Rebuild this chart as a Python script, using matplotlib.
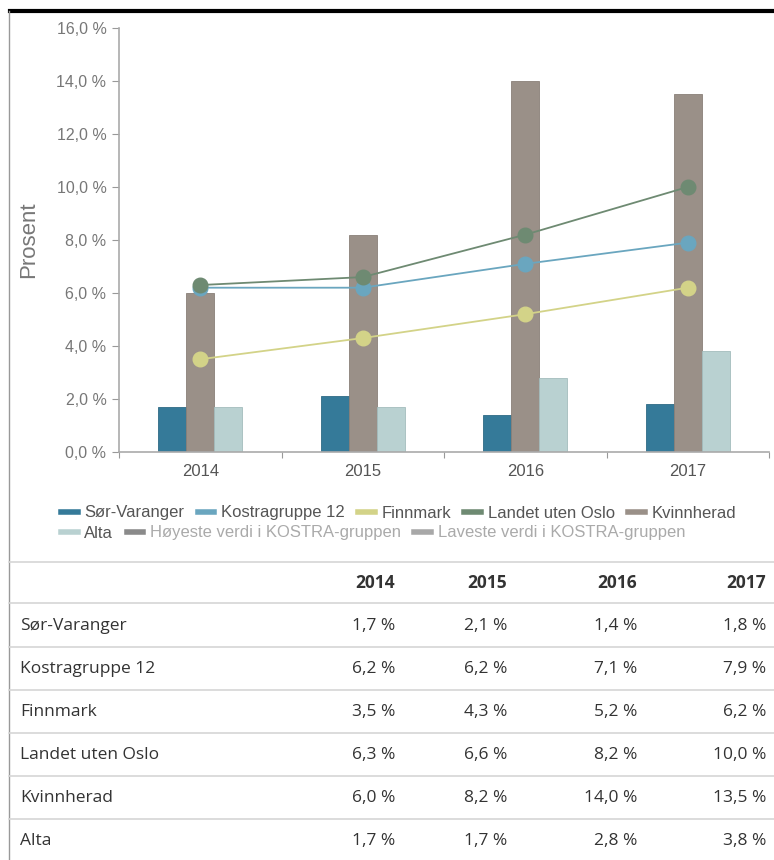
import numpy as np
import matplotlib
matplotlib.use("Agg")
import matplotlib.pyplot as plt
from matplotlib.lines import Line2D

years = ["2014", "2015", "2016", "2017"]

sor_varanger = [1.7, 2.1, 1.4, 1.8]
kostragruppe = [6.2, 6.2, 7.1, 7.9]
finnmark = [3.5, 4.3, 5.2, 6.2]
landet = [6.3, 6.6, 8.2, 10.0]
kvinnherad = [6.0, 8.2, 14.0, 13.5]
alta = [1.7, 1.7, 2.8, 3.8]

table_rows = ["Sør-Varanger", "Kostragruppe 12", "Finnmark",
              "Landet uten Oslo", "Kvinnherad", "Alta"]
table_vals = [sor_varanger, kostragruppe, finnmark, landet, kvinnherad, alta]

legend_labels = ["Sør-Varanger", "Kostragruppe 12", "Finnmark",
                 "Landet uten Oslo", "Kvinnherad", "Alta",
                 "Høyeste verdi i KOSTRA-gruppen", "Laveste verdi i KOSTRA-gruppen"]

c_sv = "#357a99"
c_kg = "#6aa6bf"
c_fm = "#d3d388"
c_lo = "#6e8a72"
c_kv = "#9a9088"
c_al = "#b9d1d1"
c_hi = "#8a8a8a"
c_lo2 = "#a8a8a8"

W, H = 774, 860
fig = plt.figure(figsize=(W / 100, H / 100), dpi=100)

chart_font = "Liberation Sans"
table_font = "Open Sans"

def fx(px):
    return px / W

def fy(py):
    return 1 - py / H

# chart axes
ax = fig.add_axes([fx(119), fy(452), fx(769) - fx(119), fy(28) - fy(452)])
x = np.arange(len(years))
bw = 0.172
ax.bar(x - bw, sor_varanger, bw, color=c_sv, edgecolor="#2e6a85", linewidth=0.6)
ax.bar(x, kvinnherad, bw, color=c_kv, edgecolor="#8a8078", linewidth=0.6)
ax.bar(x + bw, alta, bw, color=c_al, edgecolor="#a3bcbc", linewidth=0.6)

ax.plot(x, finnmark, color=c_fm, lw=1.3, marker="o", ms=10.5, zorder=3)
ax.plot(x, kostragruppe, color=c_kg, lw=1.3, marker="o", ms=10.5, zorder=4)
ax.plot(x, landet, color=c_lo, lw=1.3, marker="o", ms=10.5, zorder=5)

ax.set_xlim(-0.5, 3.5)
ax.set_ylim(0, 16)
ax.set_yticks(np.arange(0, 17, 2))
ax.set_yticklabels([f"{v:.1f} %".replace(".", ",") for v in np.arange(0, 17, 2)])
ax.set_xticks(np.arange(-0.5, 4.0, 1.0))
ax.set_xticklabels([])
ax.set_xticks(x, minor=True)
ax.set_xticklabels(years, minor=True)
ax.tick_params(axis="x", which="minor", length=0, pad=9, labelsize=12, labelcolor="#555555")
ax.tick_params(axis="x", which="major", length=4, color="#999999")
ax.tick_params(axis="y", length=5, color="#999999", labelsize=11.5, labelcolor="#777777", pad=4)
for lab in ax.get_xticklabels(minor=True) + ax.get_yticklabels():
    lab.set_fontfamily(chart_font)
for s in ["top", "right"]:
    ax.spines[s].set_visible(False)
ax.spines["left"].set_color("#aaaaaa")
ax.spines["bottom"].set_color("#aaaaaa")
ax.spines["left"].set_linewidth(1.2)
ax.spines["bottom"].set_linewidth(1.2)

fig.text(fx(29), fy(240), "Prosent", rotation=90, ha="center", va="center",
         fontsize=16, color="#777777", family=chart_font)

# legend
colors = [c_sv, c_kg, c_fm, c_lo, c_kv, c_al, c_hi, c_lo2]
handles = [Line2D([], [], color=c, lw=4) for c in colors]
row1 = fig.legend(handles[:5], legend_labels[:5], loc="center left",
                  bbox_to_anchor=(fx(46), fy(513)), ncol=5, frameon=False,
                  handlelength=1.0, handletextpad=0.4, columnspacing=0.8,
                  prop={"family": chart_font, "size": 12})
for t in row1.get_texts():
    t.set_color("#555555")
row2 = fig.legend(handles[5:], legend_labels[5:], loc="center left",
                  bbox_to_anchor=(fx(46), fy(533)), ncol=3, frameon=False,
                  handlelength=1.0, handletextpad=0.4, columnspacing=0.8,
                  prop={"family": chart_font, "size": 12})
for i, t in enumerate(row2.get_texts()):
    t.set_color("#555555" if i == 0 else "#aaaaaa")

# frame lines
fig.add_artist(Line2D([fx(10), 1], [fy(11), fy(11)], color="black", lw=3))
fig.add_artist(Line2D([fx(9), fx(9)], [fy(11), 0], color="#999999", lw=1))

# table
line_ys = [562, 603, 647, 690, 733, 776, 819]
for ly in line_ys:
    fig.add_artist(Line2D([fx(9), 1], [fy(ly), fy(ly)], color="#d6d6d6", lw=1.2))

col_x = [395, 507, 637, 766]
for cx, yr in zip(col_x, years):
    fig.text(fx(cx), fy(583), yr, ha="right", va="center", fontsize=12.5,
             fontweight="bold", color="#333333", family=table_font)

row_y = [626, 669, 712, 755, 798, 841]
for ry, name, vals in zip(row_y, table_rows, table_vals):
    fig.text(fx(20), fy(ry), name, ha="left", va="center", fontsize=12.5,
             color="#333333", family=table_font)
    for cx, v in zip(col_x, vals):
        fig.text(fx(cx), fy(ry), f"{v:.1f} %".replace(".", ","), ha="right",
                 va="center", fontsize=12.5, color="#333333", family=table_font)

fig.savefig("out.png", dpi=100)
